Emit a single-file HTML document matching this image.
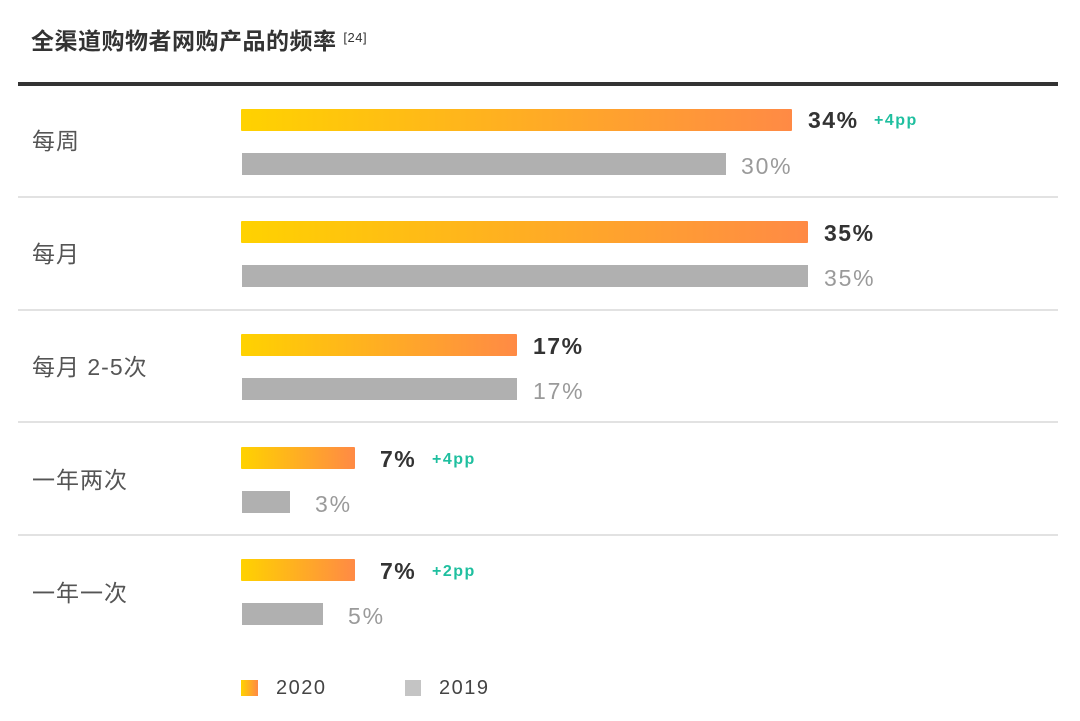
<!DOCTYPE html>
<html><head><meta charset="utf-8"><style>
body{margin:0;width:1080px;height:721px;background:#fff;position:relative;overflow:hidden;font-family:"Liberation Sans","Noto Sans CJK SC",sans-serif}
.a{position:absolute}
.o{position:absolute;height:22px;background:linear-gradient(90deg,#ffd200,#ff8a45);border-radius:1px}
.g{position:absolute;height:22px;background:#b0b0b0}
.v{position:absolute;font-size:23px;font-weight:bold;color:#333;line-height:22px;letter-spacing:1.5px}
.gv{position:absolute;font-size:23px;color:#9a9a9a;line-height:22px;letter-spacing:1.8px}
.pp{position:absolute;font-size:16px;font-weight:bold;color:#1fbf9f;line-height:22px;letter-spacing:1.5px}
.lb{position:absolute;left:32px;font-size:23px;color:#555;line-height:26px;letter-spacing:1px}
.sep{position:absolute;left:18px;width:1040px;height:2px;background:#e2e2e2}
</style></head><body>
<div class="a" style="left:31px;top:22px;font-size:23px;font-weight:bold;color:#333;letter-spacing:0.5px">全渠道购物者网购产品的频率 <span style="font-size:13px;vertical-align:7px;font-weight:normal">[24]</span></div>
<div class="a" style="left:18px;top:82px;width:1040px;height:4px;background:#333"></div>
<div class="sep" style="top:196px"></div><div class="sep" style="top:309px"></div><div class="sep" style="top:421px"></div><div class="sep" style="top:534px"></div>

<div class="lb" style="top:128px">每周</div>
<div class="o" style="left:241px;top:109px;width:551px"></div><div class="v" style="left:808px;top:109px">34%</div><div class="pp" style="left:874px;top:110px">+4pp</div>
<div class="g" style="left:242px;top:153px;width:484px"></div><div class="gv" style="left:741px;top:155px">30%</div>

<div class="lb" style="top:241px">每月</div>
<div class="o" style="left:241px;top:221px;width:567px"></div><div class="v" style="left:824px;top:222px">35%</div>
<div class="g" style="left:242px;top:265px;width:566px"></div><div class="gv" style="left:824px;top:267px">35%</div>

<div class="lb" style="top:354px">每月 2-5次</div>
<div class="o" style="left:241px;top:334px;width:276px"></div><div class="v" style="left:533px;top:335px">17%</div>
<div class="g" style="left:242px;top:378px;width:275px"></div><div class="gv" style="left:533px;top:380px">17%</div>

<div class="lb" style="top:467px">一年两次</div>
<div class="o" style="left:241px;top:447px;width:114px"></div><div class="v" style="left:380px;top:448px">7%</div><div class="pp" style="left:432px;top:449px">+4pp</div>
<div class="g" style="left:242px;top:491px;width:48px"></div><div class="gv" style="left:315px;top:493px">3%</div>

<div class="lb" style="top:580px">一年一次</div>
<div class="o" style="left:241px;top:559px;width:114px"></div><div class="v" style="left:380px;top:560px">7%</div><div class="pp" style="left:432px;top:561px">+2pp</div>
<div class="g" style="left:242px;top:603px;width:81px"></div><div class="gv" style="left:348px;top:605px">5%</div>

<div class="a" style="left:241px;top:680px;width:17px;height:16px;background:linear-gradient(90deg,#ffd200,#ff8a45)"></div>
<div class="a" style="left:276px;top:677px;font-size:20px;color:#444;letter-spacing:1.5px">2020</div>
<div class="a" style="left:405px;top:680px;width:16px;height:16px;background:#c4c4c4"></div>
<div class="a" style="left:439px;top:677px;font-size:20px;color:#444;letter-spacing:1.5px">2019</div>
</body></html>
